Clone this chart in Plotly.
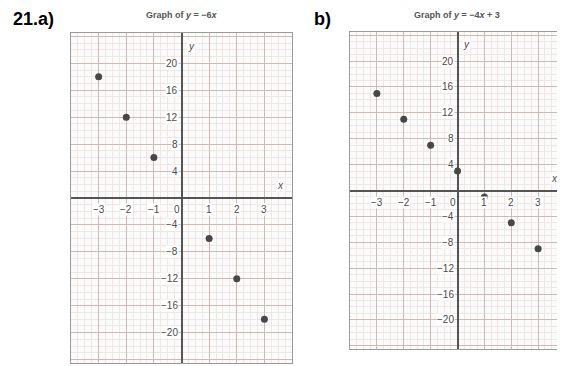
import plotly.graph_objects as go
from plotly.subplots import make_subplots

# points for a) y = -6x and b) y = -4x + 3
xa = [-3, -2, -1, 1, 2, 3]
ya = [18, 12, 6, -6, -12, -18]
xb = [-3, -2, -1, 0, 1, 2, 3]
yb = [15, 11, 7, 3, -1, -5, -9]

x_ticks = [-3, -2, -1, 1, 2, 3]
x_tick_text = ["\u22123", "\u22122", "\u22121", "1", "2", "3"]
y_ticks = [20, 16, 12, 8, 4, -4, -8, -12, -16, -20]
y_tick_text = ["20", "16", "12", "8", "4", "\u22124", "\u22128", "\u221212", "\u221216", "\u221220"]

titles = ["Graph of <i>y</i> = \u22126<i>x</i>", "Graph of <i>y</i> = \u22124<i>x</i> + 3"]
labels = ["21.a)", "b)"]

MAJOR = "#cfb9b3"
MINOR = "#efe7e5"
AXIS = "#555555"
TXT = "#4a4a4a"

# page body has an 8px margin, so work in window pixels and shift
OFF = 8
W, H = 565 - OFF, 366 - OFF


def px_x(p):
    return (p - OFF) / W


def px_y(p):
    return 1 - (p - OFF) / H


fig = make_subplots(rows=1, cols=2)

fig.add_trace(go.Scatter(x=xa, y=ya, mode="markers",
                         marker=dict(color="#474747", size=7)), row=1, col=1)
fig.add_trace(go.Scatter(x=xb, y=yb, mode="markers",
                         marker=dict(color="#474747", size=7)), row=1, col=2)

fig.update_xaxes(range=[-4, 4], dtick=1, showgrid=True, gridcolor=MAJOR, gridwidth=1,
                 minor=dict(dtick=0.25, showgrid=True, gridcolor=MINOR, gridwidth=1),
                 zeroline=True, zerolinecolor=AXIS, zerolinewidth=1.5,
                 showticklabels=False, ticks="", showline=True, linecolor="#9a9a9a",
                 mirror=True, fixedrange=True)
fig.update_yaxes(range=[-24.5, 24.5], dtick=4, showgrid=True, gridcolor=MAJOR, gridwidth=1,
                 minor=dict(dtick=1, showgrid=True, gridcolor=MINOR, gridwidth=1),
                 zeroline=True, zerolinecolor=AXIS, zerolinewidth=1.5,
                 showticklabels=False, ticks="", showline=True, linecolor="#9a9a9a",
                 mirror=True, fixedrange=True)

fig.update_layout(
    width=W, height=H,
    margin=dict(l=0, r=0, t=0, b=0),
    paper_bgcolor="white", plot_bgcolor="#fbfbfb",
    showlegend=False,
    xaxis=dict(domain=[px_x(71), px_x(292)]),
    yaxis=dict(domain=[px_y(363), px_y(33)]),
    xaxis2=dict(domain=[px_x(350), 1.0]),
    yaxis2=dict(domain=[px_y(349), px_y(32)]),
)

annotations = []
# part labels and titles
for lab, xl in zip(labels, (11, 312)):
    annotations.append(dict(text="<b>" + lab + "</b>", x=px_x(xl), y=px_y(19.5),
                            xref="paper", yref="paper", xanchor="left", yanchor="middle",
                            showarrow=False, font=dict(family="Arial", size=18, color="black")))
for t, xc in zip(titles, (181.5, 457)):
    annotations.append(dict(text="<b>" + t + "</b>", x=px_x(xc), y=px_y(15),
                            xref="paper", yref="paper", xanchor="center", yanchor="middle",
                            showarrow=False, font=dict(family="Arial", size=9, color="#555555")))

tick_font = dict(family="Arial", size=10, color=TXT)
for xr, yr in (("x", "y"), ("x2", "y2")):
    for xv, tx in zip(x_ticks, x_tick_text):
        annotations.append(dict(text=tx, x=xv, y=0, xref=xr, yref=yr, showarrow=False,
                                yanchor="top", yshift=-5, bgcolor="white", borderpad=0,
                                font=tick_font))
    annotations.append(dict(text="0", x=0, y=0, xref=xr, yref=yr, showarrow=False,
                            xanchor="right", yanchor="top", xshift=-1, yshift=-5,
                            bgcolor="white", borderpad=0, font=tick_font))
    for yv, tx in zip(y_ticks, y_tick_text):
        annotations.append(dict(text=tx, x=0, y=yv, xref=xr, yref=yr, showarrow=False,
                                xanchor="right", xshift=-3, bgcolor="white", borderpad=0,
                                font=tick_font))
    # axis names
    annotations.append(dict(text="<i>y</i>", x=0.35, y=22.5, xref=xr, yref=yr, showarrow=False,
                            bgcolor="white", borderpad=0,
                            font=dict(family="Arial", size=10, color=TXT)))
    annotations.append(dict(text="<i>x</i>", x=3.6, y=1.8, xref=xr, yref=yr, showarrow=False,
                            bgcolor="white", borderpad=0,
                            font=dict(family="Arial", size=10, color=TXT)))
fig.update_layout(annotations=annotations)

fig.write_html("out.html")
